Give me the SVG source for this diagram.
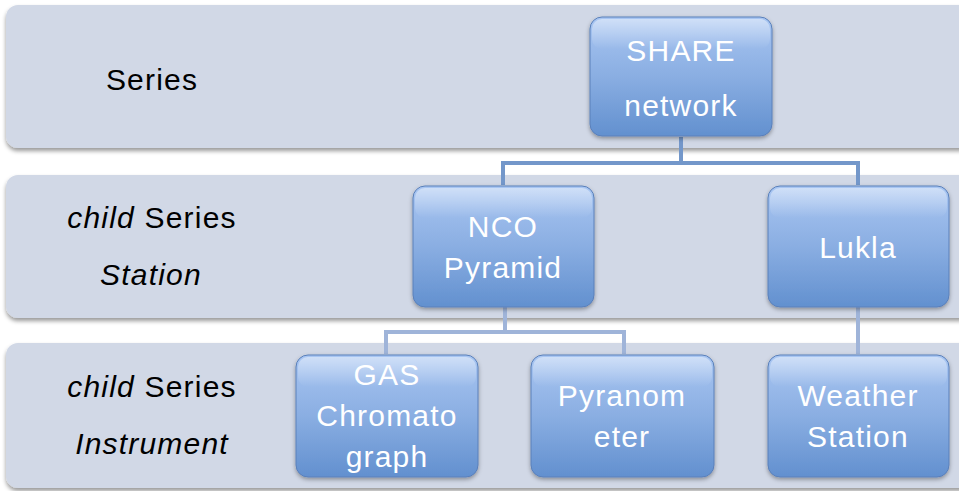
<svg xmlns="http://www.w3.org/2000/svg" width="959" height="491" viewBox="0 0 959 491">
<defs>
<linearGradient id="ng" x1="0" y1="0" x2="0" y2="1">
<stop offset="0" stop-color="#A9C6F2"/>
<stop offset="0.5" stop-color="#8AAEE2"/>
<stop offset="1" stop-color="#6290CF"/>
</linearGradient>
<linearGradient id="gl" x1="0" y1="0" x2="0" y2="1">
<stop offset="0" stop-color="#FFFFFF" stop-opacity="0.45"/>
<stop offset="1" stop-color="#FFFFFF" stop-opacity="0"/>
</linearGradient>
<filter id="bs" x="-5%" y="-10%" width="110%" height="130%">
<feDropShadow dx="0" dy="3" stdDeviation="2" flood-color="#000" flood-opacity="0.4"/>
</filter>
<filter id="ns" x="-10%" y="-10%" width="120%" height="130%">
<feDropShadow dx="0" dy="2" stdDeviation="2" flood-color="#000" flood-opacity="0.35"/>
</filter>
</defs>
<style>
.band{fill:#D1D8E6;filter:url(#bs)}
.node{fill:url(#ng);stroke:#5A80BA;stroke-width:1;filter:url(#ns)}
.gloss{fill:url(#gl)}
.nt{font-family:"Liberation Sans",Arial,sans-serif;font-size:30px;letter-spacing:1.2px;fill:#FFFFFF;text-anchor:middle}
.lt{font-family:"Liberation Sans",Arial,sans-serif;font-size:30px;letter-spacing:1.2px;fill:#000000;text-anchor:middle}
.c1{fill:none;stroke:#7397CA;stroke-width:4}
.c2{fill:none;stroke:#9FB4D9;stroke-width:4}
</style>
<rect width="959" height="491" fill="#FFFFFF"/>
<g id="bands">
<rect class="band" x="6" y="5" width="970" height="143" rx="12"/>
<rect class="band" x="6" y="175" width="970" height="143" rx="12"/>
<rect class="band" x="6" y="343" width="970" height="145" rx="12"/>
</g>
<g id="labels">
<text class="lt" x="152" y="90">Series</text>
<text class="lt" x="152" y="228"><tspan font-style="italic">child</tspan> Series</text>
<text class="lt" x="151" y="285" font-style="italic">Station</text>
<text class="lt" x="152" y="397"><tspan font-style="italic">child</tspan> Series</text>
<text class="lt" x="152" y="454" font-style="italic">Instrument</text>
</g>
<g id="connectors">
<path class="c1" d="M681 137 V163 M503 185 V163 H858 V185"/>
<path class="c2" d="M505 307 V332 M386 354 V332 H624 V354"/>
<path class="c2" d="M858 307 V354"/>
</g>
<g id="share">
<rect class="node" x="590" y="17" width="182" height="119" rx="12"/>
<rect class="gloss" x="592" y="19" width="178" height="30" rx="10"/>
<text class="nt" x="681" y="61">SHARE</text>
<text class="nt" x="681" y="116">network</text>
</g>
<g id="nco">
<rect class="node" x="413" y="186" width="181" height="121" rx="12"/>
<rect class="gloss" x="415" y="188" width="177" height="30" rx="10"/>
<text class="nt" x="503" y="237">NCO</text>
<text class="nt" x="503" y="278">Pyramid</text>
</g>
<g id="lukla">
<rect class="node" x="768" y="186" width="181" height="121" rx="12"/>
<rect class="gloss" x="770" y="188" width="177" height="30" rx="10"/>
<text class="nt" x="858" y="258">Lukla</text>
</g>
<g id="gas">
<rect class="node" x="296" y="355" width="182" height="122" rx="12"/>
<rect class="gloss" x="298" y="357" width="178" height="30" rx="10"/>
<text class="nt" x="387" y="385">GAS</text>
<text class="nt" x="387" y="426">Chromato</text>
<text class="nt" x="387" y="467">graph</text>
</g>
<g id="pyranometer">
<rect class="node" x="531" y="355" width="183" height="122" rx="12"/>
<rect class="gloss" x="533" y="357" width="179" height="30" rx="10"/>
<text class="nt" x="622" y="406">Pyranom</text>
<text class="nt" x="622" y="447">eter</text>
</g>
<g id="weather">
<rect class="node" x="768" y="355" width="181" height="122" rx="12"/>
<rect class="gloss" x="770" y="357" width="177" height="30" rx="10"/>
<text class="nt" x="858" y="406">Weather</text>
<text class="nt" x="858" y="447">Station</text>
</g>
</svg>
